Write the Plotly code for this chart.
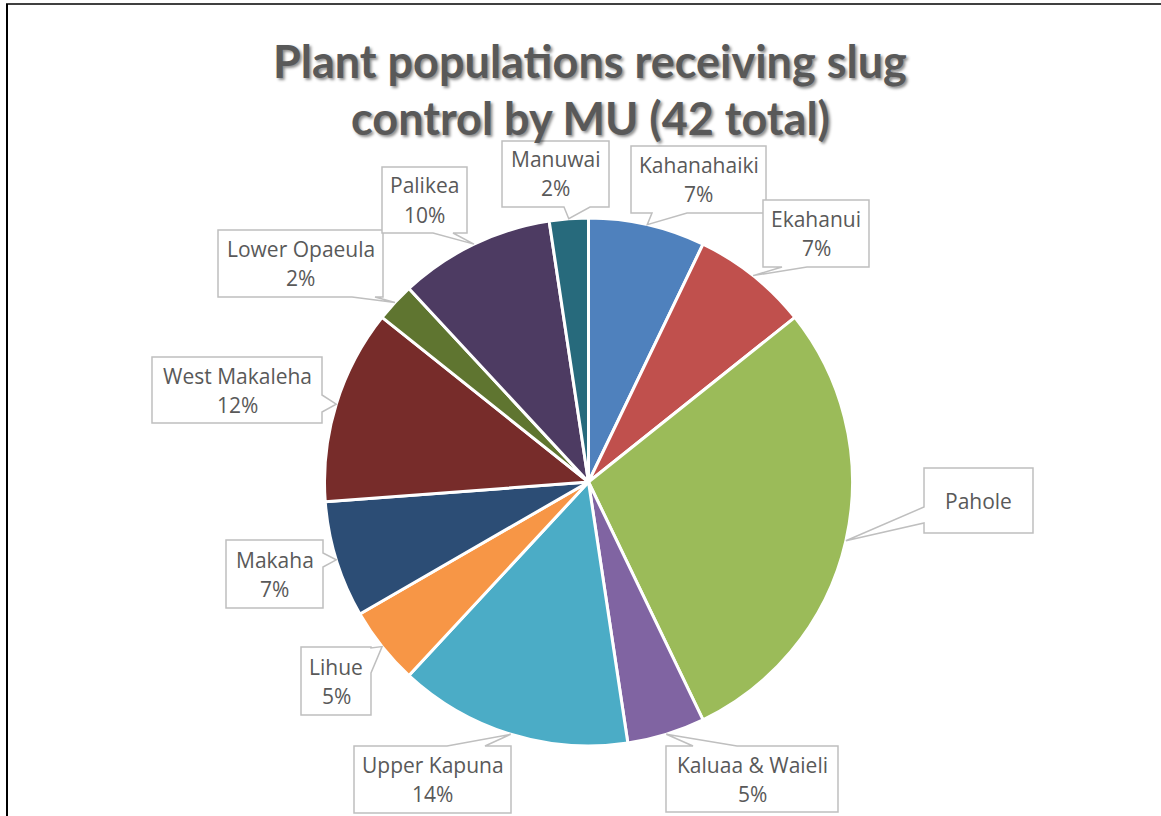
import math
import plotly.graph_objects as go

# Management units and number of plant populations receiving slug control
units = ["Kahanahaiki", "Ekahanui", "Pahole", "Kaluaa & Waieli", "Upper Kapuna",
         "Lihue", "Makaha", "West Makaleha", "Lower Opaeula", "Palikea", "Manuwai"]
populations = [3, 3, 12, 2, 6, 2, 3, 5, 1, 4, 1]
show_percent = [True, True, False, True, True, True, True, True, True, True, True]
colors = ["#4F81BD", "#C0504D", "#9BBB59", "#8064A2", "#4BACC6", "#F79646",
          "#2C4D75", "#772C2A", "#5F7530", "#4D3B62", "#276A7C"]

W, H = 1161, 816
CX, CY, R = 588.5, 482.0, 264.0          # pie centre and radius, pixels

# Callout boxes: (x0, y0, x1, y1), side carrying the pointer, pointer base span
callouts = [
    ((631, 146, 766, 213), "bottom", (652, 687)),
    ((763, 200, 869, 267), "bottom", (782, 807)),
    ((924, 468, 1033, 533), "left", (507, 523)),
    ((666, 746, 838, 812), "top", (693, 737)),
    ((354, 746, 511, 813), "top", (447, 485)),
    ((301, 647, 371, 715), "right", (648, 673)),
    ((226, 540, 323, 608), "right", (553, 567)),
    ((152, 357, 322, 423), "right", (395, 412)),
    ((218, 230, 383, 297), "bottom", (352, 375)),
    ((382, 167, 467, 233), "bottom", (433, 453)),
    ((502, 141, 609, 207), "bottom", (564, 590)),
]

GRAY_TEXT = "#595959"
BOX_LINE = "#BFBFBF"


def px(x):
    return x / W


def py(y):
    return 1 - y / H


def bubble_path(box, side, base, tip):
    x0, y0, x1, y1 = box
    a, b = base
    tx, ty = tip
    pts = [(x0, y0)]
    if side == "top":
        pts += [(a, y0), (tx, ty), (b, y0)]
    pts.append((x1, y0))
    if side == "right":
        pts += [(x1, a), (tx, ty), (x1, b)]
    pts.append((x1, y1))
    if side == "bottom":
        pts += [(b, y1), (tx, ty), (a, y1)]
    pts.append((x0, y1))
    if side == "left":
        pts += [(x0, b), (tx, ty), (x0, a)]
    return "M " + " L ".join(f"{px(x):.5f},{py(y):.5f}" for x, y in pts) + " Z"


total = sum(populations)

fig = go.Figure()
fig.add_trace(go.Pie(
    labels=units,
    values=populations,
    sort=False,
    direction="clockwise",
    rotation=0,
    marker=dict(colors=colors, line=dict(color="white", width=3)),
    textinfo="none",
    showlegend=False,
    domain=dict(x=[(CX - R) / W, (CX + R) / W],
                y=[(H - CY - R) / H, (H - CY + R) / H]),
))

shapes = []
annotations = []

# Frame lines along the left and top edges
shapes.append(dict(type="line", xref="paper", yref="paper",
                   x0=px(7), y0=py(H), x1=px(7), y1=py(4),
                   line=dict(color="black", width=2)))
shapes.append(dict(type="line", xref="paper", yref="paper",
                   x0=px(6), y0=py(4), x1=px(W), y1=py(4),
                   line=dict(color="black", width=1.5)))

cum = 0
for name, val, pct_on, (box, side, base) in zip(units, populations, show_percent, callouts):
    mid = (cum + val / 2) / total * 2 * math.pi
    cum += val
    tip = (CX + R * math.sin(mid), CY - R * math.cos(mid))
    shapes.append(dict(type="path", xref="paper", yref="paper", layer="above",
                       path=bubble_path(box, side, base, tip),
                       fillcolor="white", line=dict(color=BOX_LINE, width=1.5)))
    bx = (box[0] + box[2]) / 2
    by = (box[1] + box[3]) / 2
    lines = [name]
    if pct_on:
        lines.append(f"{round(val / total * 100)}%")
    offsets = [-14.5, 14.5] if len(lines) == 2 else [0]
    for text, off in zip(lines, offsets):
        annotations.append(dict(
            x=px(bx), y=py(by + off), xref="paper", yref="paper",
            text=text, showarrow=False, xanchor="center", yanchor="middle",
            font=dict(family="Open Sans", size=21, color=GRAY_TEXT),
        ))

# Two-line chart title
title_font = dict(family="Lato", size=45, color=GRAY_TEXT, weight="bold",
                  shadow="2px 2px 3px rgba(0,0,0,0.45)")
for text, y in [("Plant populations receiving slug", 61),
                ("control by MU (42 total)", 118)]:
    annotations.append(dict(
        x=px(590), y=py(y), xref="paper", yref="paper", text=text,
        showarrow=False, xanchor="center", yanchor="middle", font=title_font,
    ))

fig.update_layout(
    width=W, height=H,
    margin=dict(l=0, r=0, t=0, b=0),
    paper_bgcolor="white", plot_bgcolor="white",
    shapes=shapes, annotations=annotations,
)

fig.write_html("out.html")
